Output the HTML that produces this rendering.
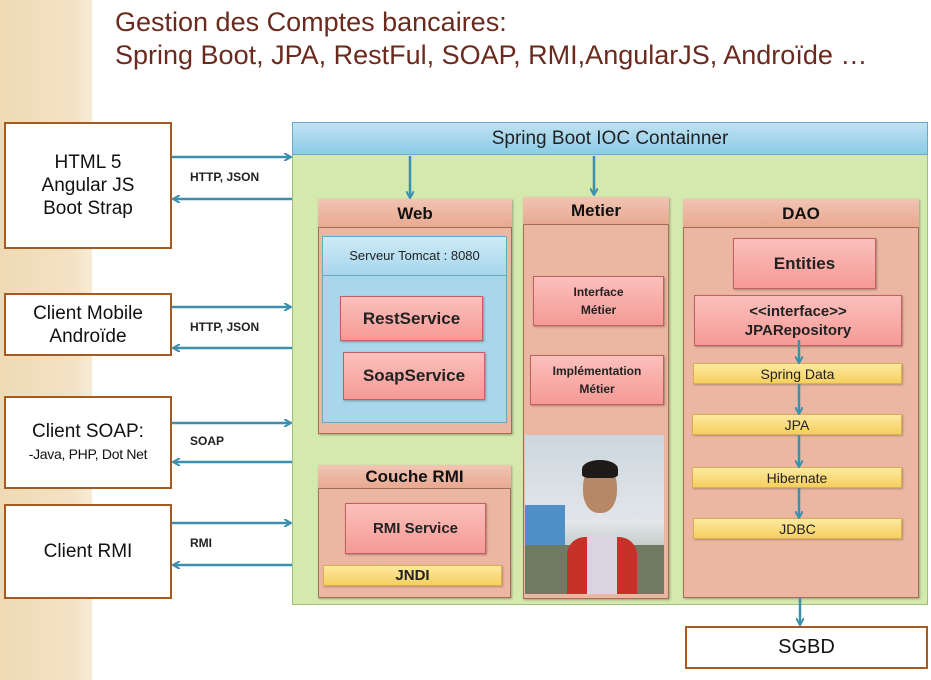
<!DOCTYPE html>
<html><head><meta charset="utf-8"><style>
body{margin:0;width:931px;height:680px;position:relative;overflow:hidden;background:#fff;font-family:"Liberation Sans",sans-serif}
.a{position:absolute;box-sizing:border-box}
.wb{border:2px solid #a55a22;background:#fff;display:flex;align-items:center;justify-content:center;text-align:center;font-size:19px;color:#111;line-height:23px}
.pn{background:#ecb7a2;border:1px solid #a56f55;box-shadow:1px 1px 2px rgba(0,0,0,.3)}
.hd{background:linear-gradient(#f1c5b3,#e8a991);border-bottom:1px solid #a56f55;text-align:center;font-weight:bold;font-size:17px;color:#111}
.rb{background:linear-gradient(#fbc0bc,#f59a95);border:1px solid #c06060;box-shadow:1px 1px 2px rgba(0,0,0,.3);display:flex;align-items:center;justify-content:center;text-align:center;font-weight:bold;color:#222}
.yb{background:linear-gradient(#fde9a0,#f6cf5e);border:1px solid #d8b050;box-shadow:1px 1px 2px rgba(0,0,0,.25);text-align:center;font-size:14px;color:#222;line-height:20px}
.lb{font-weight:bold;font-size:12px;color:#222}
</style></head><body>
<div class="a" style="left:0;top:0;width:92px;height:680px;background:linear-gradient(90deg,#f0dab5,#f3e2c4 80%,#f7ecd8)"></div>
<div class="a" style="left:115px;top:6px;font-size:27px;color:#6b2a1e;line-height:33px;white-space:nowrap">Gestion des Comptes bancaires:<br>Spring Boot, JPA, RestFul, SOAP, RMI,AngularJS, Androïde …</div>

<div class="a" style="left:292px;top:122px;width:636px;height:483px;background:#d4e9ae;border:1px solid #9fbf7a"></div>
<div class="a" style="left:292px;top:122px;width:636px;height:33px;background:linear-gradient(#bfe2f2,#8ccbe6);border:1px solid #6aa8c4;text-align:center;font-size:19px;line-height:32px;color:#222">Spring Boot IOC Containner</div>

<div class="a wb" style="left:4px;top:122px;width:168px;height:127px"><div>HTML 5<br>Angular JS<br>Boot Strap</div></div>
<div class="a wb" style="left:4px;top:293px;width:168px;height:63px"><div>Client Mobile<br>Androïde</div></div>
<div class="a wb" style="left:4px;top:396px;width:168px;height:93px;line-height:22px"><div>Client SOAP:<br><span style="font-size:14px;letter-spacing:-0.3px">-Java, PHP, Dot Net</span></div></div>
<div class="a wb" style="left:4px;top:504px;width:168px;height:95px"><div>Client RMI</div></div>
<div class="a lb" style="left:190px;top:170px">HTTP, JSON</div>
<div class="a lb" style="left:190px;top:320px">HTTP, JSON</div>
<div class="a lb" style="left:190px;top:434px">SOAP</div>
<div class="a lb" style="left:190px;top:536px">RMI</div>

<!-- Web -->
<div class="a pn" style="left:318px;top:199px;width:194px;height:235px"></div>
<div class="a hd" style="left:318px;top:199px;width:194px;height:29px;line-height:29px">Web</div>
<div class="a" style="left:322px;top:236px;width:185px;height:187px;background:#a8d6ea;border:1px solid #6aa8c4"></div>
<div class="a" style="left:322px;top:236px;width:185px;height:40px;background:linear-gradient(#cdeaf6,#a6d6ec);border:1px solid #6aa8c4;text-align:center;line-height:38px;font-size:13px;color:#222">Serveur Tomcat : 8080</div>
<div class="a rb" style="left:340px;top:296px;width:143px;height:45px;font-size:17px">RestService</div>
<div class="a rb" style="left:343px;top:352px;width:142px;height:48px;font-size:17px">SoapService</div>

<!-- RMI -->
<div class="a pn" style="left:318px;top:465px;width:193px;height:133px"></div>
<div class="a hd" style="left:318px;top:465px;width:193px;height:24px;line-height:24px">Couche RMI</div>
<div class="a rb" style="left:345px;top:503px;width:141px;height:51px;font-size:15px">RMI Service</div>
<div class="a yb" style="left:323px;top:565px;width:179px;height:21px;font-weight:bold;font-size:15px">JNDI</div>

<!-- Metier -->
<div class="a pn" style="left:523px;top:197px;width:146px;height:402px"></div>
<div class="a hd" style="left:523px;top:197px;width:146px;height:28px;line-height:28px">Metier</div>
<div class="a rb" style="left:533px;top:276px;width:131px;height:50px;font-size:12px;line-height:18px"><div>Interface<br>Métier</div></div>
<div class="a rb" style="left:530px;top:355px;width:134px;height:50px;font-size:12px;line-height:18px"><div>Implémentation<br>Métier</div></div>
<div class="a" style="left:525px;top:435px;width:139px;height:159px;background:linear-gradient(#cdd6de,#e2e6ea 55%,#8a9a8a);overflow:hidden">
<div class="a" style="left:0;top:70px;width:40px;height:40px;background:#4f8fc8"></div>
<div class="a" style="left:0;top:110px;width:139px;height:49px;background:#6e7b62"></div>
<div class="a" style="left:42px;top:102px;width:70px;height:60px;background:#c8302a;border-radius:18px 18px 0 0"></div>
<div class="a" style="left:62px;top:100px;width:30px;height:59px;background:#d8d4e0"></div>
<div class="a" style="left:58px;top:30px;width:34px;height:48px;background:#b88866;border-radius:45%"></div>
<div class="a" style="left:57px;top:25px;width:36px;height:18px;background:#1e1a1a;border-radius:50% 50% 20% 20%"></div>
</div>

<!-- DAO -->
<div class="a pn" style="left:683px;top:199px;width:236px;height:399px"></div>
<div class="a hd" style="left:683px;top:199px;width:236px;height:29px;line-height:29px">DAO</div>
<div class="a rb" style="left:733px;top:238px;width:143px;height:51px;font-size:17px">Entities</div>
<div class="a rb" style="left:694px;top:295px;width:208px;height:51px;font-size:15px;line-height:19px"><div>&lt;&lt;interface&gt;&gt;<br>JPARepository</div></div>
<div class="a yb" style="left:693px;top:363px;width:209px;height:21px">Spring Data</div>
<div class="a yb" style="left:692px;top:414px;width:210px;height:21px">JPA</div>
<div class="a yb" style="left:692px;top:467px;width:210px;height:21px">Hibernate</div>
<div class="a yb" style="left:693px;top:518px;width:209px;height:21px">JDBC</div>

<div class="a wb" style="left:685px;top:626px;width:243px;height:43px;font-size:20px">SGBD</div>

<svg class="a" style="left:0;top:0" width="931" height="680">
<defs><marker id="m" markerWidth="8" markerHeight="8" refX="6" refY="4" orient="auto" markerUnits="userSpaceOnUse"><path d="M0,0 L7,4 L0,8" fill="none" stroke="#3c8fae" stroke-width="2"/></marker></defs>
<g stroke="#3c8fae" stroke-width="2.5" fill="none" marker-end="url(#m)">
<line x1="172" y1="157" x2="290" y2="157"/><line x1="292" y1="199" x2="174" y2="199"/>
<line x1="172" y1="307" x2="290" y2="307"/><line x1="292" y1="348" x2="174" y2="348"/>
<line x1="172" y1="423" x2="290" y2="423"/><line x1="292" y1="462" x2="174" y2="462"/>
<line x1="172" y1="523" x2="290" y2="523"/><line x1="292" y1="565" x2="174" y2="565"/>
<line x1="410" y1="156" x2="410" y2="197"/><line x1="594" y1="156" x2="594" y2="194"/>
<line x1="800" y1="598" x2="800" y2="624"/>
<line x1="799" y1="340" x2="799" y2="362"/><line x1="799" y1="384" x2="799" y2="413"/>
<line x1="799" y1="435" x2="799" y2="466"/><line x1="799" y1="488" x2="799" y2="517"/>
</g></svg>
</body></html>
